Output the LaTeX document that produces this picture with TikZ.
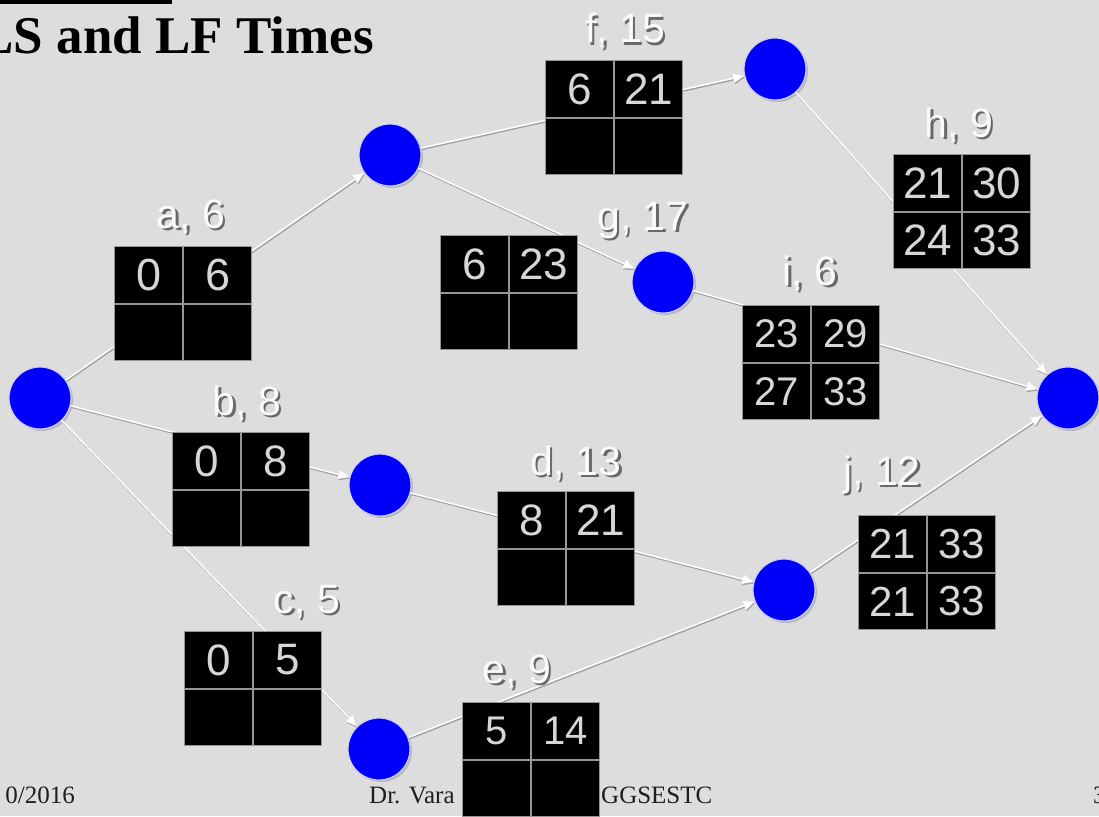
\documentclass[tikz,border=0pt]{standalone}
\usepackage{fontspec}
\setmainfont{Liberation Serif}
\newfontfamily\numfont{Liberation Sans}
\usetikzlibrary{arrows.meta}
\definecolor{bg}{RGB}{221,221,221}
\definecolor{evblue}{RGB}{0,0,250}
\definecolor{evrim}{RGB}{205,205,255}
\definecolor{numgray}{RGB}{215,215,215}
\definecolor{gapgray}{RGB}{150,150,150}
\definecolor{lblwhite}{RGB}{250,250,250}
\definecolor{lblshadow}{RGB}{105,105,105}
\definecolor{foottext}{RGB}{30,30,30}
\tikzset{
  evt/.style={circle, minimum size=62pt, inner sep=0pt, fill=evblue, draw=evrim, line width=1.2pt,
    preaction={fill=black!28, transform canvas={shift={(2pt,-2pt)}}}},
  boxbg/.style={rectangle, minimum width=138pt, minimum height=115pt, inner sep=0pt, fill=gapgray, anchor=north west},
  cell/.style={rectangle, minimum width=67pt, minimum height=55.5pt, inner sep=0pt, fill=black, text=numgray, anchor=north west},
  act/.style={draw=white, line width=1.5pt, -{Triangle[width=9pt,length=11pt]},
    preaction={draw=black!38, line width=1.5pt, transform canvas={shift={(0.7pt,-1.3pt)}}}},
  lbl/.style={text=lblwhite, font=\numfont\fontsize{41}{41}\selectfont, inner sep=0pt, anchor=base},
  foot/.style={text=foottext, font=\fontsize{25}{25}\selectfont, inner sep=0pt},
}
\newcommand\shadowtext[1]{\rlap{\kern2.5pt\raisebox{-2.5pt}{\textcolor{lblshadow}{#1}}}#1}
\newcommand\actbox[8]{%
  \node[boxbg] (#1) at (#2,#3) {};
  \node[cell, font=\numfont\fontsize{#8}{#8}\selectfont] (#1-tl) at ([shift={(1pt,-1pt)}]#1.north west) {#4};
  \node[cell, font=\numfont\fontsize{#8}{#8}\selectfont] (#1-tr) at ([shift={(70pt,-1pt)}]#1.north west) {#5};
  \node[cell, font=\numfont\fontsize{#8}{#8}\selectfont] (#1-bl) at ([shift={(1pt,-58.5pt)}]#1.north west) {#6};
  \node[cell, font=\numfont\fontsize{#8}{#8}\selectfont] (#1-br) at ([shift={(70pt,-58.5pt)}]#1.north west) {#7};
}
\newcommand\actlbl[4]{%
  \node[lbl] (#1) at (#2,#3) {\shadowtext{#4}};
}
\begin{document}
\begin{tikzpicture}[x=1pt,y=-1pt]
\useasboundingbox (0,0) rectangle (1099,816);
\fill[bg] (0,0) rectangle (1099,816);
% title
\fill[black] (0,0) rectangle (172,4);
\node[anchor=base east, inner sep=0pt, font=\bfseries\fontsize{53}{53}\selectfont] (title) at (374,53) {LS and LF Times};
% footer
\node[foot, anchor=base east] (date) at (75,803) {0/2016};
\node[foot, anchor=base west] (auth) at (369,803) {Dr. Vara};
\node[foot, anchor=base west] (inst) at (601,803) {GGSESTC};
\node[foot, anchor=base west] (pg) at (1093,803) {3};
% events
\node[evt] (n1) at (40,398) {};
\node[evt] (n2) at (390,155) {};
\node[evt] (n3) at (775,69) {};
\node[evt] (n4) at (663,282) {};
\node[evt] (n5) at (1068,398) {};
\node[evt] (n6) at (380,485) {};
\node[evt] (n7) at (784,590) {};
\node[evt] (n8) at (379,749) {};
% activities
\draw[act] (n1) -- (n2);
\draw[act] (n1) -- (n6);
\draw[act] (n1) -- (n8);
\draw[act] (n6) -- (n7);
\draw[act] (n8) -- (n7);
\draw[act] (n2) -- (n3);
\draw[act] (n2) -- (n4);
\draw[act] (n3) -- (n5);
\draw[act] (n4) -- (n5);
\draw[act] (n7) -- (n5);
% boxes
\actbox{ba}{114}{246}{0}{6}{}{}{45}
\actbox{bb}{172}{432}{0}{8}{}{}{44}
\actbox{bc}{184}{631}{0}{5}{}{}{44}
\actbox{bd}{497}{491}{8}{21}{}{}{44}
\actbox{be}{462}{702}{5}{14}{}{}{40}
\actbox{bf}{545}{60}{6}{21}{}{}{44}
\actbox{bg}{440}{235}{6}{23}{}{}{44}
\actbox{bh}{893}{154}{21}{30}{24}{33}{44}
\actbox{bi}{742}{305}{23}{29}{27}{33}{40}
\actbox{bj}{858}{515}{21}{33}{21}{33}{42}
% labels
\actlbl{la}{191}{228}{a, 6}
\actlbl{lb}{247}{415}{b, 8}
\actlbl{lc}{307}{613}{c, 5}
\actlbl{ld}{576}{475}{d, 13}
\actlbl{le}{517}{683}{e, 9}
\actlbl{lf}{625}{43}{f, 15}
\actlbl{lg}{643}{230}{g, 17}
\actlbl{lh}{959}{137}{h, 9}
\actlbl{li}{810}{285}{i, 6}
\actlbl{lj}{882}{485}{j, 12}
\end{tikzpicture}
\end{document}
